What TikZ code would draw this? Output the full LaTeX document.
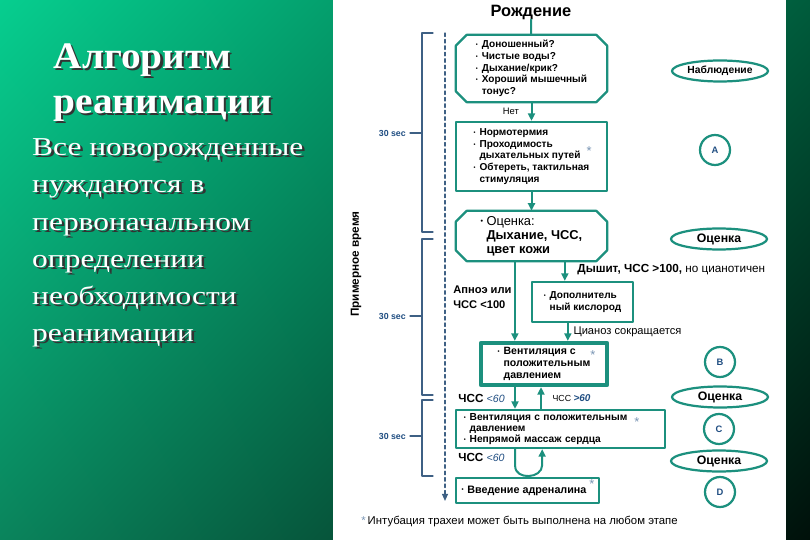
\documentclass[tikz,border=0pt]{standalone}
\usepackage{fontspec}
\setmainfont{Liberation Serif}
\setsansfont{Liberation Sans}
\usepackage{graphicx}
\usetikzlibrary{arrows.meta}
\usetikzlibrary{shapes.geometric}
\usetikzlibrary{shadings}

\definecolor{bgUL}{RGB}{6,206,143}
\definecolor{bgUR}{RGB}{0,92,60}
\definecolor{bgLL}{RGB}{10,132,92}
\definecolor{bgLR}{RGB}{0,16,10}
\definecolor{tealline}{RGB}{28,144,126}
\definecolor{secblue}{RGB}{32,78,130}
\definecolor{brackgray}{RGB}{62,96,132}

\newcommand\itm{\makebox[5pt][l]{\raisebox{0.2ex}{\scalebox{0.55}{\textbullet}}}}
\newcommand\ind{\hspace*{5pt}}
\newcommand\cham{0.33cm}
% white slide text with its dark shadow, stretched sideways
\newcommand\shadowed[2]{\scalebox{#1}[1]{\makebox[0pt][l]{\hspace{1.8pt}\raisebox{-1.8pt}[0pt][0pt]{\textcolor{black!80}{#2}}}\textcolor{white}{#2}}}
% octagon outline round a plain node
\newcommand\octoframe[1]{\draw[frame] ([xshift=\cham]#1.north west) -- ([xshift=-\cham]#1.north east)
  -- ([yshift=-\cham]#1.north east) -- ([yshift=\cham]#1.south east) -- ([xshift=-\cham]#1.south east)
  -- ([xshift=\cham]#1.south west) -- ([yshift=\cham]#1.south west) -- ([yshift=-\cham]#1.north west) -- cycle;}

\tikzset{
  frame/.style={draw=tealline, line width=1.9pt},
  box/.style={rectangle, inner sep=0pt, align=left, text=black,
    font=\sffamily\bfseries\fontsize{8.6}{10}\selectfont},
  framedbox/.style={box, frame},
  flow/.style={draw=tealline, line width=1.7pt, -{Triangle[width=6pt,length=6.5pt]}},
  lbl/.style={inner sep=1pt, font=\sffamily\fontsize{8}{10}\selectfont, align=left},
  star/.style={inner sep=0pt, text=secblue!60, font=\sffamily\fontsize{11}{11}\selectfont},
  stage/.style={ellipse, draw=tealline, line width=1.9pt, inner sep=0pt,
    minimum width=2.88cm, minimum height=0.63cm, font=\sffamily\bfseries\fontsize{10.5}{10}\selectfont},
  phase/.style={circle, draw=tealline, line width=1.9pt, inner sep=0pt, minimum size=0.9cm,
    text=secblue, font=\sffamily\bfseries\fontsize{8}{8}\selectfont},
  bracket/.style={draw=brackgray, line width=1.1pt},
  seclbl/.style={inner sep=0pt, text=secblue, font=\sffamily\bfseries\fontsize{7.5}{8}\selectfont},
  headline/.style={inner sep=0pt, align=left, font=\bfseries\fontsize{32}{38.4}\selectfont},
  bodytext/.style={inner sep=0pt, align=left, font=\fontsize{22}{31.75}\selectfont},
}

\begin{document}
\begin{tikzpicture}[x=0.03cm, y=-0.03cm, line cap=round, line join=round, >=Triangle]
  \useasboundingbox (0,0) rectangle (810,540);
  % background
  \shade[upper left=bgUL, upper right=bgUR, lower left=bgLL, lower right=bgLR] (0,0) rectangle (810,540);
  \fill[white] (333,0) rectangle (786,540);

  % left side text
  \node[headline, anchor=north west] (title) at (53.5,43.5)
    {\shadowed{1.05}{Алгоритм}\\\shadowed{1.05}{реанимации}};
  \node[bodytext, anchor=north west] (intro) at (32,138.5)
    {\shadowed{1.22}{Все новорожденные}\\\shadowed{1.22}{нуждаются в}\\\shadowed{1.22}{первоначальном}\\
     \shadowed{1.22}{определении}\\\shadowed{1.22}{необходимости}\\\shadowed{1.22}{реанимации}};

  % time axis
  \draw[bracket, dash pattern=on 3pt off 2.5pt, -{Triangle[width=5pt,length=6pt]}] (445,33) -- (445,501);
  \foreach \ya/\yb/\ym [count=\i] in {33/232/133, 239/395/316, 400/476/436} {
    \draw[bracket] (433,\ya) -- (422,\ya) -- (422,\yb) -- (433,\yb);
    \draw[bracket] (410,\ym) -- (422,\ym);
    \node[seclbl, anchor=east] (sec\i) at (406,\ym) {30 sec};
  }
  \node[rotate=90, inner sep=0pt, font=\sffamily\bfseries\fontsize{10}{10}\selectfont] (approx) at (356,264) {Примерное время};

  % flow boxes
  \node[inner sep=0pt, font=\sffamily\bfseries\fontsize{14}{14}\selectfont] (birth) at (531,12) {Рождение};
  \node[box, minimum width=4.53cm, minimum height=2.01cm] (check) at (531.5,68.5)
    {\itm Доношенный?\\\itm Чистые воды?\\\itm Дыхание/крик?\\\itm Хороший мышечный\\\ind тонус?};
  \octoframe{check}
  \node[framedbox, minimum width=4.53cm, minimum height=2.07cm] (warm) at (531.5,156.5)
    {\itm Нормотермия\\\itm Проходимость\\\ind дыхательных путей\\\itm Обтереть, тактильная\\\ind стимуляция};
  \node[star] (star1) at (589,151) {*};
  \node[box, minimum width=4.53cm, minimum height=1.5cm,
    font=\sffamily\bfseries\fontsize{11}{12}\selectfont] (assess) at (531.5,236)
    {\itm{\mdseries Оценка:}\\\ind Дыхание, ЧСС,\\\ind цвет кожи};
  \octoframe{assess}
  \node[framedbox, minimum width=3.03cm, minimum height=1.2cm] (oxygen) at (582.5,302)
    {\itm Дополнитель\\\ind ный кислород};
  \node[framedbox, line width=3.6pt, minimum width=3.78cm, minimum height=1.26cm,
    font=\sffamily\bfseries\fontsize{9}{10.2}\selectfont] (vent) at (544,364)
    {\itm Вентиляция с\\\ind положительным\hspace*{14pt}\\\ind давлением};
  \node[star] (star2) at (593,355) {*};
  \node[framedbox, minimum width=6.27cm, minimum height=1.14cm, text width=5.8cm,
    font=\sffamily\bfseries\fontsize{8.7}{9.6}\selectfont] (cpr) at (560.5,429)
    {\itm Вентиляция с положительным\\\ind давлением\\\itm Непрямой массаж сердца};
  \node[star] (star3) at (637,422) {*};
  \node[framedbox, minimum width=4.29cm, minimum height=0.75cm,
    font=\sffamily\bfseries\fontsize{9.2}{10}\selectfont] (adren) at (527.5,490.5)
    {\itm Введение адреналина\hspace*{6pt}};
  \node[star] (star4) at (592,484) {*};

  % connectors
  \draw[tealline, line width=1.7pt] (birth) -- (check);
  \draw[flow] (check) -- node[lbl, left=9pt] {Нет} (warm);
  \draw[flow] (warm) -- (assess);
  \draw[flow] ([xshift=-0.5cm]assess.south) -- node[lbl, left=1pt, pos=0.45, font=\sffamily\bfseries\fontsize{9.5}{12.5}\selectfont] {Апноэ или\\ЧСС <100} ([xshift=-0.5cm]assess.south |- vent.north);
  \draw[flow] ([xshift=1cm]assess.south) -- ([xshift=1cm]assess.south |- oxygen.north);
  \node[lbl, anchor=west, font=\sffamily\fontsize{10}{10}\selectfont] (breathes) at (576,270) {\textbf{Дышит, ЧСС >100,} но цианотичен};
  \draw[flow] ([xshift=-0.44cm]oxygen.south) -- node[lbl, right=3pt, font=\sffamily\fontsize{9.5}{10}\selectfont] {Цианоз сокращается} ([xshift=-0.44cm]oxygen.south |- vent.north);
  \draw[flow] ([xshift=-0.87cm]vent.south) -- node[lbl, left=7pt, font=\sffamily\bfseries\fontsize{10}{10}\selectfont] {ЧСС \textcolor{secblue}{\mdseries\itshape\fontsize{9}{10}\selectfont <60}} ([xshift=-0.87cm]vent.south |- cpr.north);
  \draw[flow] ([xshift=-0.09cm]vent.south |- cpr.north) -- node[lbl, right=8pt, font=\sffamily\fontsize{7.5}{10}\selectfont] {ЧСС \textcolor{secblue}{\bfseries\itshape\fontsize{8.5}{10}\selectfont >60}} ([xshift=-0.09cm]vent.south);
  \draw[flow] ([xshift=-1.36cm]cpr.south) -- ++(0,17) .. controls +(0,14) and +(0,14) .. ([xshift=-0.55cm]cpr.south |- 0,465) -- ([xshift=-0.55cm]cpr.south);
  \node[lbl, anchor=east, font=\sffamily\bfseries\fontsize{10}{10}\selectfont] (hr3) at (506,457) {ЧСС \textcolor{secblue}{\mdseries\itshape\fontsize{9}{10}\selectfont <60}};

  % stages on the right
  \node[stage, font=\sffamily\bfseries\fontsize{8.8}{9}\selectfont] (obs) at (720,71) {Наблюдение};
  \node[phase] (phA) at (715,150) {A};
  \node[stage] (ev1) at (719,239) {Оценка};
  \node[phase] (phB) at (720,362) {B};
  \node[stage] (ev2) at (720,397) {Оценка};
  \node[phase] (phC) at (719,429) {C};
  \node[stage] (ev3) at (719,461) {Оценка};
  \node[phase] (phD) at (720,492) {D};

  % footnote
  \node[lbl, anchor=west, font=\sffamily\fontsize{9.7}{9}\selectfont] (note) at (360,522) {\textcolor{secblue!60}{*}\,Интубация трахеи может быть выполнена на любом этапе};
\end{tikzpicture}
\end{document}
